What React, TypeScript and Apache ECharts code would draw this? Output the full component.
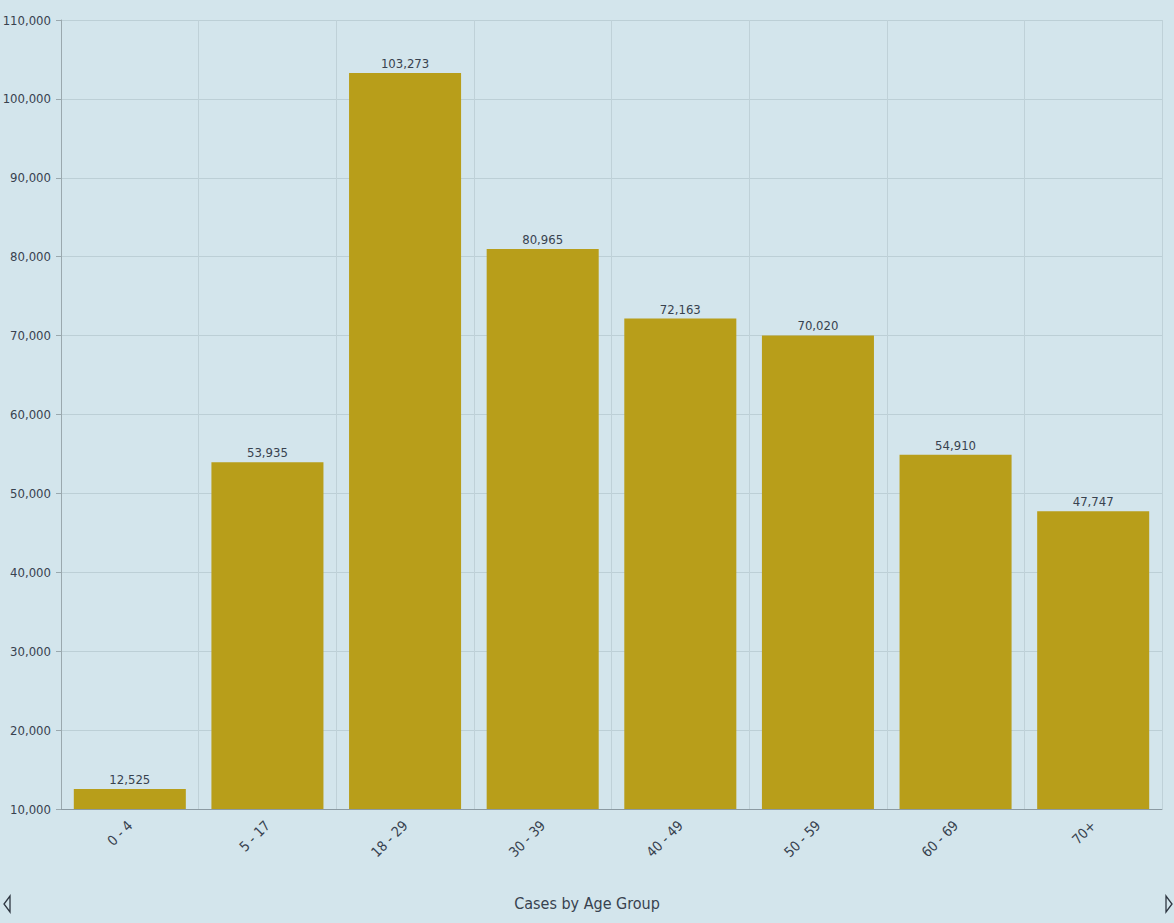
import React, { useEffect, useRef } from "react";
import * as echarts from "echarts";

const categories = ["0 - 4", "5 - 17", "18 - 29", "30 - 39", "40 - 49", "50 - 59", "60 - 69", "70+"];
const cases = [12525, 53935, 103273, 80965, 72163, 70020, 54910, 47747];
const axisTitle = "Cases by Age Group";

const FONT = "'Liberation Sans Narrow', 'DejaVu Sans Condensed', 'Roboto Condensed', sans-serif";
const TEXT = "#38424f";

export default function App() {
  const ref = useRef<HTMLDivElement>(null);
  useEffect(() => {
    document.body.style.margin = "0";
    const chart = echarts.init(ref.current!, undefined, { renderer: "svg" });
    chart.setOption({
      animation: false,
      backgroundColor: "#d3e5ec",
      textStyle: { fontFamily: FONT },
      grid: { left: 61, right: 12, top: 20, bottom: 114, containLabel: false, outerBoundsMode: "none" },
      xAxis: {
        type: "category",
        data: categories,
        axisLine: { lineStyle: { color: "#8b9aa2", width: 1 } },
        axisTick: { alignWithLabel: true, length: 6, lineStyle: { color: "#9aa8ae" } },
        axisLabel: { rotate: 45, fontSize: 14, color: TEXT, fontFamily: FONT, margin: 14 },
        splitLine: { show: true, lineStyle: { color: "#bfd1d8", width: 1 } },
      },
      yAxis: {
        type: "value",
        min: 10000,
        max: 110000,
        interval: 10000,
        axisLine: { show: true, lineStyle: { color: "#9aa8ae" } },
        axisTick: { show: true, length: 5, lineStyle: { color: "#9aa8ae" } },
        axisLabel: {
          fontSize: 13,
          color: TEXT,
          fontFamily: FONT,
          margin: 10,
          formatter: (v: number) => v.toLocaleString("en-US"),
        },
        splitLine: { lineStyle: { color: "#bccfd6", width: 1 } },
      },
      series: [
        {
          type: "bar",
          data: cases,
          barCategoryGap: "18.6%",
          itemStyle: { color: "#b89e1a" },
          label: {
            show: true,
            position: "top",
            distance: 3,
            fontSize: 13,
            color: TEXT,
            fontFamily: FONT,
            formatter: (p: any) => Number(p.value).toLocaleString("en-US"),
          },
        },
      ],
      graphic: [
        {
          type: "text",
          x: 587,
          y: 903,
          style: {
            text: axisTitle,
            fontSize: 16,
            fill: TEXT,
            fontFamily: FONT,
            align: "center",
            verticalAlign: "middle",
          },
        },
        {
          type: "polygon",
          shape: { points: [[10, 896], [10, 912], [4, 904]] },
          style: { fill: "none", stroke: "#2f3742", lineWidth: 1.3 },
        },
        {
          type: "polygon",
          shape: { points: [[1166, 896], [1166, 912], [1172, 904]] },
          style: { fill: "none", stroke: "#2f3742", lineWidth: 1.3 },
        },
      ],
    });
    return () => chart.dispose();
  }, []);
  return <div ref={ref} style={{ width: 1174, height: 923 }} />;
}
